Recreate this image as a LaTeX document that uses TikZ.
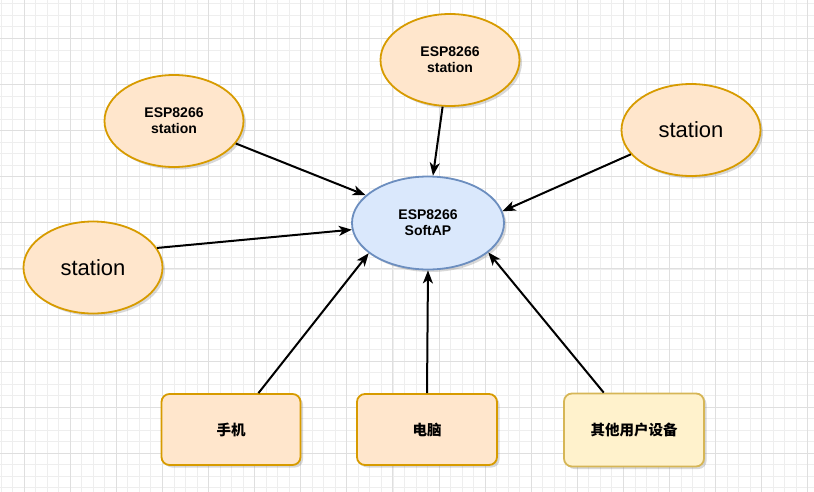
\documentclass[tikz,border=0pt]{standalone}
\usepackage{fontspec}
\setmainfont{Liberation Sans}
\newfontfamily\cjkfont{Noto Sans CJK SC}
\usetikzlibrary{arrows.meta,shapes.geometric,shadows}
\definecolor{orfill}{HTML}{FFE6CC}
\definecolor{ordraw}{HTML}{D79B00}
\definecolor{blfill}{HTML}{DAE8FC}
\definecolor{bldraw}{HTML}{6C8EBF}
\definecolor{yefill}{HTML}{FFF2CC}
\definecolor{yedraw}{HTML}{D6B656}
\definecolor{gridminor}{HTML}{EEEEEE}
\definecolor{gridmajor}{HTML}{DFDFDF}

\begin{document}
\begin{tikzpicture}[x=1pt,y=1pt,
	shade/.style={drop shadow={shadow xshift=2.5pt,shadow yshift=-2.5pt,opacity=0.3}},
	sta/.style={ellipse,draw=ordraw,fill=orfill,line width=1.8pt,inner sep=0pt,align=center,
		minimum width=139pt,minimum height=92pt,shade,
		font=\bfseries\fontsize{14}{16}\selectfont},
	bigsta/.style={sta,font=\fontsize{22}{26}\selectfont},
	ap/.style={sta,draw=bldraw,fill=blfill,minimum width=152pt,minimum height=93pt},
	dev/.style={rectangle,rounded corners=8pt,draw=ordraw,fill=orfill,line width=1.8pt,
		minimum width=139pt,minimum height=71pt,shade,
		font=\cjkfont\bfseries\fontsize{14.5}{17}\selectfont},
	arr/.style={-{Stealth[length=13pt,width=10pt,inset=3.5pt]},line width=2pt,black}]
	\useasboundingbox (0,0) rectangle (814,-491);
	\fill[white] (0,0) rectangle (814,-491);
	% grid
	\begin{scope}
		\clip (0,0) rectangle (814,-491);
		\draw[gridminor,line width=0.6pt,shift={(0.95,-3.725)},step=11.525pt] (-12,12) grid (830,-510);
		\draw[gridmajor,line width=0.8pt,shift={(24,-38.3)},step=46.1pt] (-50,50) grid (830,-510);
	\end{scope}
	% stations
	\node[sta] (sta1) at (174,-121) {ESP8266\\station};
	\node[sta] (sta2) at (450,-60) {ESP8266\\station};
	\node[bigsta] (sta3) at (691,-130) {station};
	\node[bigsta] (sta4) at (93,-267.5) {station};
	% softap
	\node[ap] (ap) at (428,-223) {ESP8266\\SoftAP};
	% devices
	\node[dev] (phone) at (231,-429.5) {手机};
	\node[dev,minimum width=140pt] (pc) at (427,-429.5) {电脑};
	\node[dev,draw=yedraw,fill=yefill,minimum width=140pt,minimum height=73pt] (other) at (634,-430) {其他用户设备};
	% links
	\draw[arr] (sta1.340) -- (ap.156);
	\draw[arr] (sta2.261) -- (ap.84);
	\draw[arr] (sta3.202) -- (ap.9);
	\draw[arr] (sta4.17) -- (ap.185);
	\draw[arr] (phone.53) -- (ap.207);
	\draw[arr] (pc.north) -- (ap.270);
	\draw[arr] (other.129) -- (ap.334);
\end{tikzpicture}
\end{document}
